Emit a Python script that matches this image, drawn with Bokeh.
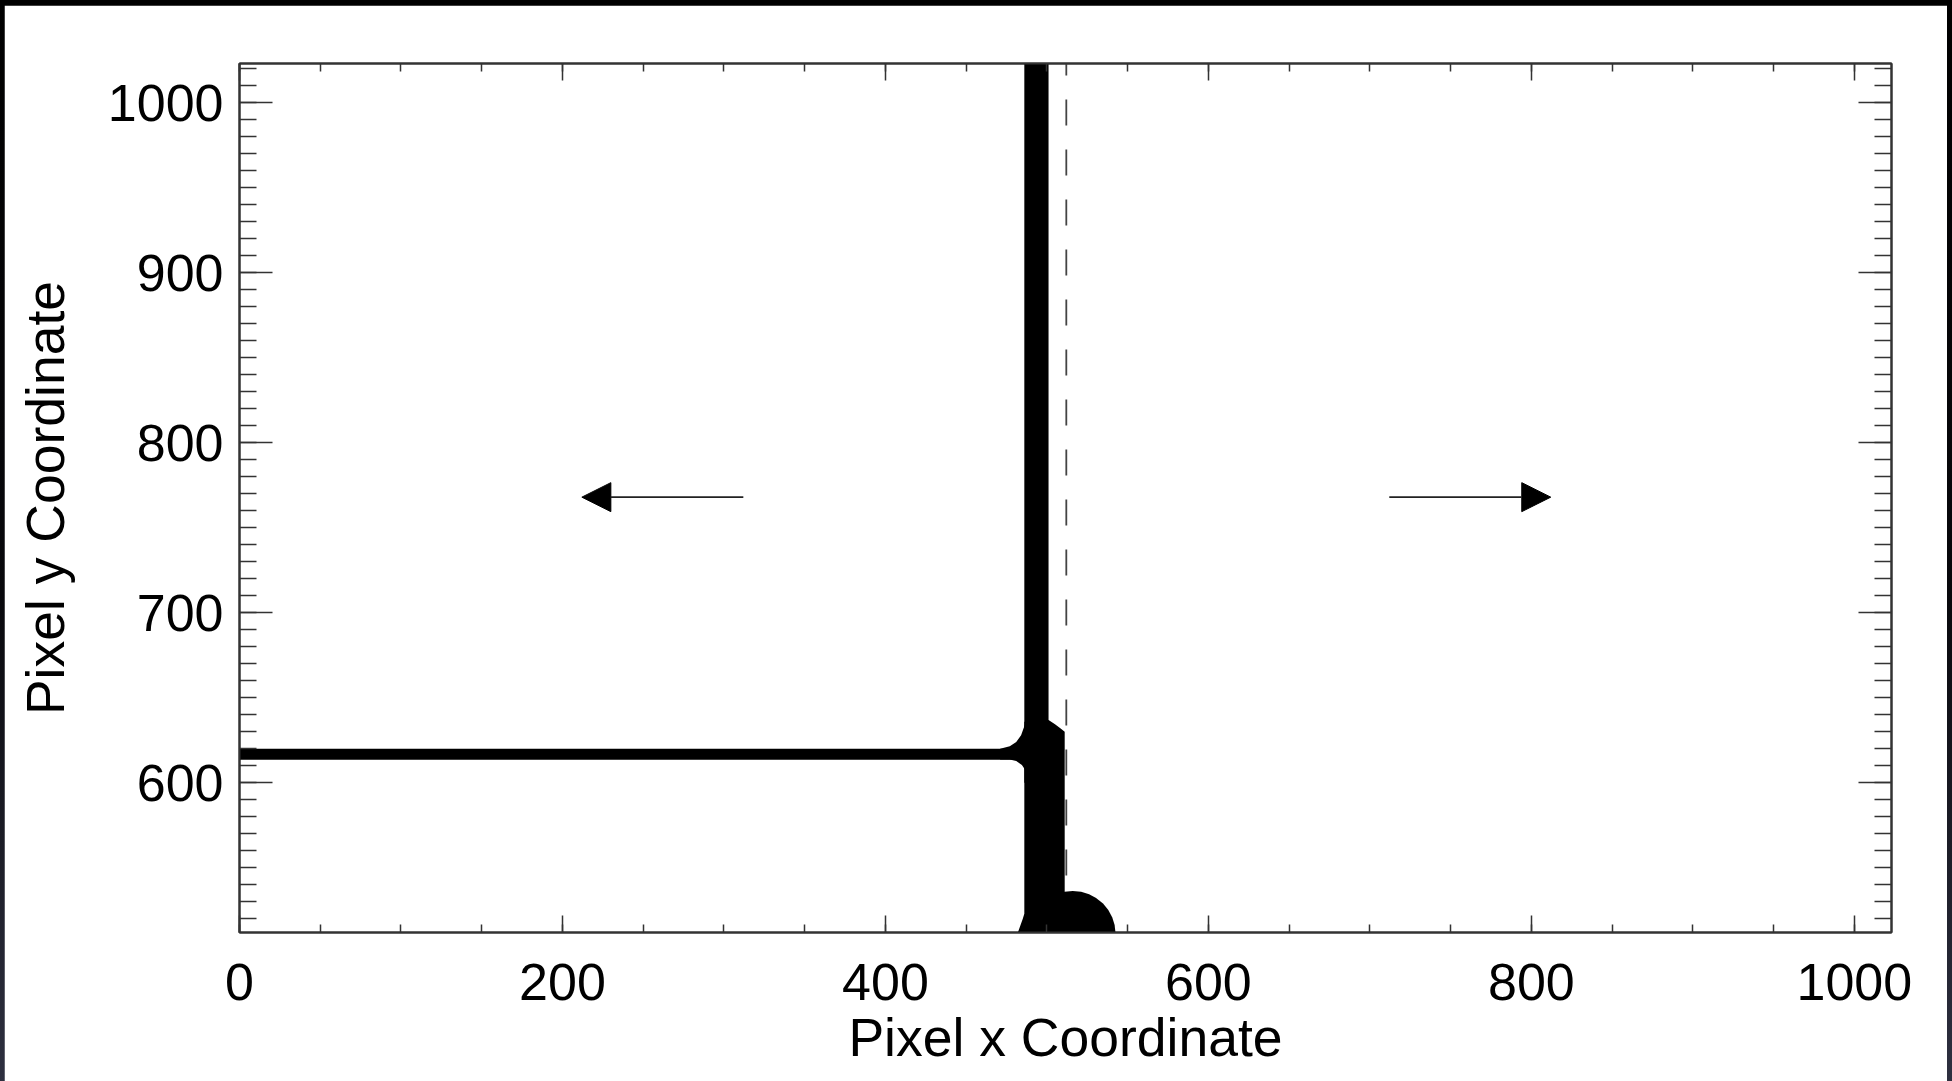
from bokeh.plotting import figure
from bokeh.models import (ColumnDataSource, LinearAxis, SingleIntervalTicker,
                          Arrow, NormalHead, Range1d)
from bokeh.layouts import column
from bokeh.embed import file_html
from bokeh.resources import INLINE

# ---- data (pixel coordinates) ----
# vertical crack trunk
trunk_left, trunk_right = [486], [501]
trunk_bottom, trunk_top = [600], [1023]

# horizontal branch running to the left edge
branch_left, branch_right = [0], [480]
branch_bottom, branch_top = [613.6], [620]

# widened lower part of the trunk, flaring out to the symmetry line
lower_x = [486, 501, 505, 508.5, 511, 511, 482, 483.5, 485, 486]
lower_y = [636, 637, 634.5, 632, 630, 512, 512, 516, 520, 523]

# fillet where the branch meets the trunk
fillet_x = [471, 477, 481, 484, 485.5, 487, 487, 484.5, 481, 477, 474, 471]
fillet_y = [620, 621.5, 624, 628, 632, 636, 607, 610.5, 612.8, 613.7, 613.8, 613.8]

# rounded bulb at the crack base
bulb_x = [516]
bulb_y = [511]
bulb_w = [53]
bulb_h = [51]

# dashed symmetry line
divide_x = [512, 512]
divide_y = [1023, 512]

# direction arrows
arrow_tail_x = [312, 712]
arrow_tip_x = [212, 812]
arrow_y = [768, 768]

x_lo, x_hi = 0, 1023
y_lo, y_hi = 512, 1023

FONT = "Liberation Sans"
AX_COLOR = "#333333"

p = figure(width=1943, height=1076, output_backend="svg", toolbar_location=None,
           x_range=Range1d(x_lo, x_hi), y_range=Range1d(y_lo, y_hi),
           x_axis_type=None, y_axis_type=None,
           min_border_left=235, min_border_right=56,
           min_border_top=58, min_border_bottom=149)
p.margin = (5, 5, 0, 4)
p.background_fill_color = "white"
p.border_fill_color = "white"
p.outline_line_color = AX_COLOR
p.outline_line_width = 2
p.xgrid.visible = False
p.ygrid.visible = False


def make_axis(ticker, major_in, minor_in, show_labels, label=None, standoff=16, label_standoff=10):
    ax = LinearAxis(ticker=ticker)
    ax.axis_line_color = AX_COLOR
    ax.axis_line_width = 2
    ax.major_tick_line_color = AX_COLOR
    ax.minor_tick_line_color = AX_COLOR
    ax.major_tick_line_width = 1.5
    ax.minor_tick_line_width = 1.5
    ax.major_tick_in = major_in
    ax.major_tick_out = 0
    ax.minor_tick_in = minor_in
    ax.minor_tick_out = 0
    if show_labels:
        ax.major_label_text_font = FONT
        ax.major_label_text_font_size = "52px"
        ax.major_label_text_color = "black"
        ax.major_label_standoff = standoff
        if label:
            ax.axis_label = label
            ax.axis_label_text_font = FONT
            ax.axis_label_text_font_size = "53.5px"
            ax.axis_label_text_font_style = "normal"
            ax.axis_label_text_color = "black"
            ax.axis_label_standoff = label_standoff
    else:
        ax.major_label_text_font_size = "0px"
        ax.major_label_text_alpha = 0
        ax.major_label_standoff = 0
    return ax


def xt():
    return SingleIntervalTicker(interval=200, num_minor_ticks=4)


def yt():
    return SingleIntervalTicker(interval=100, num_minor_ticks=10)


p.add_layout(make_axis(xt(), 17, 8, True, "Pixel x Coordinate", standoff=31, label_standoff=5), "below")
p.add_layout(make_axis(xt(), 17, 8, False), "above")
p.add_layout(make_axis(yt(), 33, 17, True, "Pixel y Coordinate", standoff=16, label_standoff=30), "left")
p.add_layout(make_axis(yt(), 33, 17, False), "right")

# crack body
p.quad(left=trunk_left, right=trunk_right, bottom=trunk_bottom, top=trunk_top,
       fill_color="black", line_color=None)
p.quad(left=branch_left, right=branch_right, bottom=branch_bottom, top=branch_top,
       fill_color="black", line_color=None)
p.patch(lower_x, lower_y, fill_color="black", line_color=None)
p.patch(fillet_x, fillet_y, fill_color="black", line_color=None)

# dashed divide line along the crack's right edge
p.line(divide_x, divide_y, line_color="#444444", line_width=1.8,
       line_dash="26 24", line_dash_offset=14)

p.ellipse(x=bulb_x, y=bulb_y, width=bulb_w, height=bulb_h,
          fill_color="black", line_color=None)

# arrows
arrows = ColumnDataSource(dict(x0=arrow_tail_x, x1=arrow_tip_x, y=arrow_y))
p.add_layout(Arrow(end=NormalHead(size=29, fill_color="black", line_color="black"),
                   x_start="x0", y_start="y", x_end="x1", y_end="y",
                   source=arrows, line_color="#222222", line_width=1.6))

page = column(p, width=1952, height=1081,
              styles={"background": "linear-gradient(to bottom, #000000 0%, #08080c 55%, #2e3040 100%)"})

open("out.html", "w").write(file_html(page, INLINE))
